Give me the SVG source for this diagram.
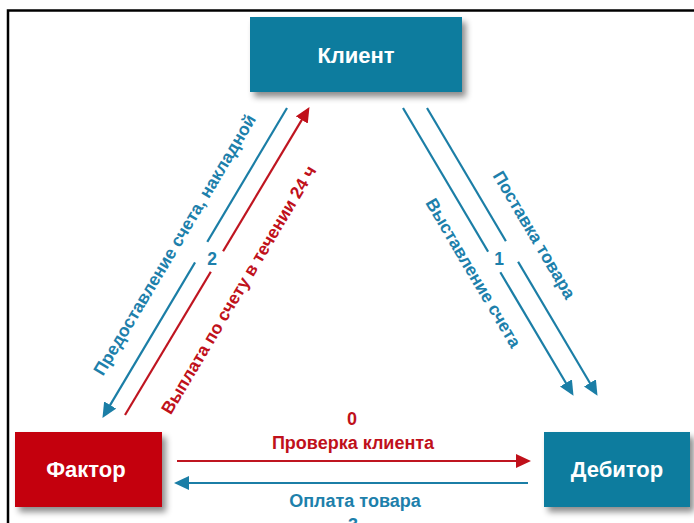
<svg xmlns="http://www.w3.org/2000/svg" width="694" height="523" viewBox="0 0 694 523">
  <style>
    .node-blue { fill: #117c9e; }
    .node-red { fill: #c4000f; }
    .ntext { font-family: "Liberation Sans", Arial, sans-serif; font-weight: bold; font-size: 22px; fill: #ffffff; text-anchor: middle; }
    .lbl { font-family: "Liberation Sans", Arial, sans-serif; font-weight: bold; font-size: 17.5px; text-anchor: middle; }
    .lblh { font-family: "Liberation Sans", Arial, sans-serif; font-weight: bold; font-size: 18px; text-anchor: middle; }
    .tb { fill: #1d80ab; }
    .tr { fill: #c0111b; }
    .lb { stroke: #1b7ea6; stroke-width: 2.2; fill: none; marker-end: url(#ab); }
    .lr { stroke: #bf1520; stroke-width: 2.2; fill: none; marker-end: url(#ar); }
  </style>
  <defs>
    <filter id="sh" x="-20%" y="-20%" width="150%" height="160%">
      <feDropShadow dx="4" dy="5" stdDeviation="3" flood-color="#000" flood-opacity="0.45"/>
    </filter>
    <marker id="ab" markerUnits="userSpaceOnUse" markerWidth="16" markerHeight="14" refX="3" refY="7" orient="auto">
      <path d="M0,0 L15,7 L0,14 z" fill="#1b7ea6"/>
    </marker>
    <marker id="ar" markerUnits="userSpaceOnUse" markerWidth="16" markerHeight="14" refX="3" refY="7" orient="auto">
      <path d="M0,0 L15,7 L0,14 z" fill="#c0101a"/>
    </marker>
  </defs>
  <rect x="0" y="0" width="694" height="523" fill="#ffffff"/>
  <g id="frame">
    <path d="M8,523 L8,10.5 L694,10.5" fill="none" stroke="#000" stroke-width="2.5"/>
  </g>

  <g id="connectors">
    <line class="lb" x1="287" y1="108" x2="108.6" y2="407.6"/>
    <line class="lr" x1="125" y1="415" x2="303.3" y2="117.4"/>
    <line class="lb" x1="403" y1="108" x2="567.4" y2="385.5"/>
    <line class="lb" x1="427" y1="108" x2="591.4" y2="385.5"/>
    <line class="lr" x1="177" y1="461" x2="519" y2="461"/>
    <line class="lb" x1="528" y1="483" x2="186" y2="483"/>
    <rect x="-12" y="-24" width="24" height="48" fill="#fff" transform="translate(211,258) rotate(-59.2)"/>
    <rect x="-12" y="-24" width="24" height="48" fill="#fff" transform="translate(501,258) rotate(59.4)"/>
    <text class="lbl tb" x="212" y="265" font-size="17">2</text>
    <text class="lbl tb" x="499" y="265" font-size="17">1</text>
    <text class="lbl tb" transform="translate(179.8,247.9) rotate(-59.2)">Предоставление счета, накладной</text>
    <text class="lbl tr" transform="translate(243.8,292.9) rotate(-59.2)">Выплата по счету в течении 24 ч</text>
    <text class="lbl tb" transform="translate(529.2,237.9) rotate(59.4)">Поставка товара</text>
    <text class="lbl tb" transform="translate(468.2,275.9) rotate(59.4)">Выставление счета</text>
    <text class="lblh tr" x="352" y="425">0</text>
    <text class="lblh tr" x="353" y="449">Проверка клиента</text>
    <text class="lblh tb" x="355" y="507">Оплата товара</text>
    <text class="lblh tb" x="353" y="531">3</text>
  </g>

  <g id="node-client">
    <rect class="node-blue" x="250" y="17" width="212" height="75" filter="url(#sh)"/>
    <text class="ntext" x="356" y="63">Клиент</text>
  </g>
  <g id="node-factor">
    <rect class="node-red" x="15" y="432" width="147" height="75" filter="url(#sh)"/>
    <text class="ntext" x="86" y="477">Фактор</text>
  </g>
  <g id="node-debitor">
    <rect class="node-blue" x="544" y="432" width="146" height="75" filter="url(#sh)"/>
    <text class="ntext" x="617" y="477">Дебитор</text>
  </g>
</svg>
